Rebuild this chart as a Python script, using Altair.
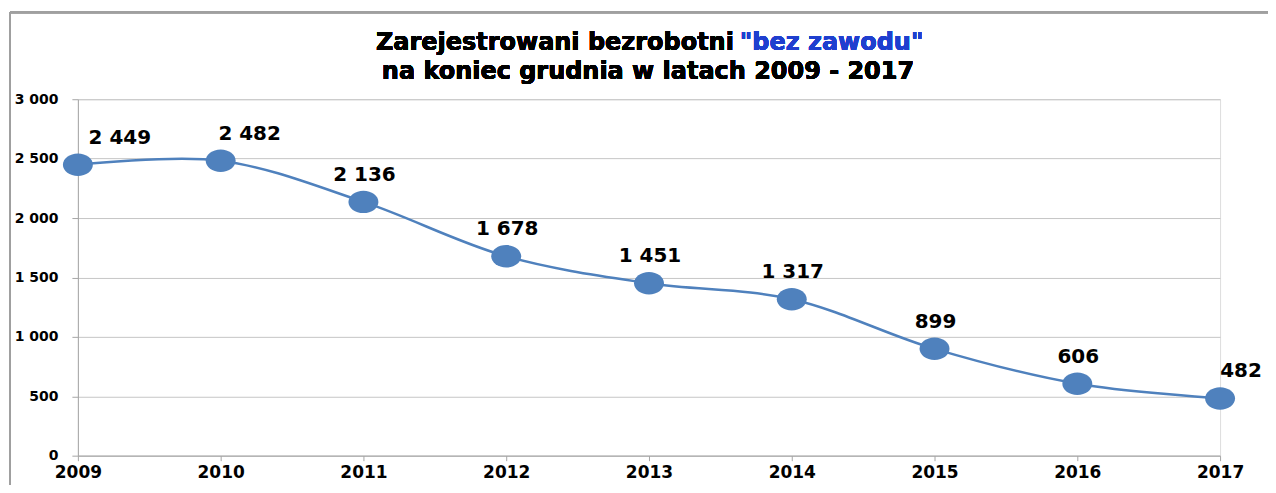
import altair as alt
import pandas as pd

years = [2009, 2010, 2011, 2012, 2013, 2014, 2015, 2016, 2017]
values = [2449, 2482, 2136, 1678, 1451, 1317, 899, 606, 482]
y_ticks = [0, 500, 1000, 1500, 2000, 2500, 3000]

df = pd.DataFrame({"year": years, "value": values})

FONT = "DejaVu Sans"
BLUE = "#4f81bd"
ELLIPSE = "M-1,0 A1,0.75 0 1,1 1,0 A1,0.75 0 1,1 -1,0 Z"

base = alt.Chart(df)

x = alt.X("year:Q", scale=alt.Scale(domain=[2009, 2017], nice=False, zero=False),
          axis=alt.Axis(values=years, format="d", title=None, grid=False,
                        domainColor="#a6a6a6", tickColor="#a6a6a6", tickSize=5,
                        labelFont=FONT, labelFontSize=17, labelFontWeight="bold",
                        labelColor="#000000", labelPadding=4, labelFlush=False))
y = alt.Y("value:Q", scale=alt.Scale(domain=[0, 3000], nice=False),
          axis=alt.Axis(values=y_ticks, title=None, grid=True, gridColor="#c6c6c6",
                        domainColor="#a6a6a6", tickColor="#a6a6a6", tickSize=6,
                        labelFont=FONT, labelFontSize=14, labelFontWeight="bold",
                        labelColor="#000000", labelPadding=14,
                        labelExpr="replace(format(datum.value, ','), ',', ' ')"))

line = base.mark_line(color=BLUE, strokeWidth=2.5, interpolate="catmull-rom").encode(x=x, y=y)
points = base.mark_point(shape=ELLIPSE, size=900, filled=True, color=BLUE, opacity=1).encode(
    x="year:Q", y="value:Q")

lab = base.transform_calculate(
    label="replace(format(datum.value, ','), ',', ' ')")

def labels(filt, dx):
    return lab.transform_filter(filt).mark_text(
        font=FONT, fontSize=20, fontWeight="bold", color="#000000",
        dx=dx, dy=-27, baseline="middle", align="center").encode(
        x="year:Q", y="value:Q", text="label:N")

lab_a = labels("datum.year == 2009", 42)
lab_b = labels("datum.year == 2010", 29)
lab_c = labels("datum.year > 2010 && datum.year < 2017", 1)
lab_d = labels("datum.year == 2017", 21)

title_style = dict(font=FONT, fontSize=24, fontWeight="bold", baseline="middle")
t1a = alt.Chart(df).mark_text(align="right", color="#000000", **title_style).encode(
    x=alt.value(657), y=alt.value(-56), text=alt.value("Zarejestrowani bezrobotni"))
t1b = alt.Chart(df).mark_text(align="left", color="#1f3fcf", **title_style).encode(
    x=alt.value(663), y=alt.value(-56), text=alt.value('"bez zawodu"'))
t2 = alt.Chart(df).mark_text(align="center", color="#000000", **title_style).encode(
    x=alt.value(571), y=alt.value(-27), text=alt.value("na koniec grudnia w latach 2009 - 2017"))

frame_top = alt.Chart(df).mark_rule(color="#a0a0a0", strokeWidth=2).encode(
    x=alt.value(-68), x2=alt.value(1196), y=alt.value(-87))
frame_left = alt.Chart(df).mark_rule(color="#a0a0a0", strokeWidth=2).encode(
    x=alt.value(-68), y=alt.value(-87), y2=alt.value(400))

chart = alt.layer(line, points, lab_a, lab_b, lab_c, lab_d, t1a, t1b, t2, frame_top, frame_left).properties(
    width=1144, height=357,
    autosize=alt.AutoSizeParams(type="none"),
    padding={"left": 70, "top": 91, "right": 48, "bottom": 29},
).configure_view(stroke=None).configure(background="#ffffff")

chart.save("out.html", embed_options={"renderer": "svg", "actions": False})
